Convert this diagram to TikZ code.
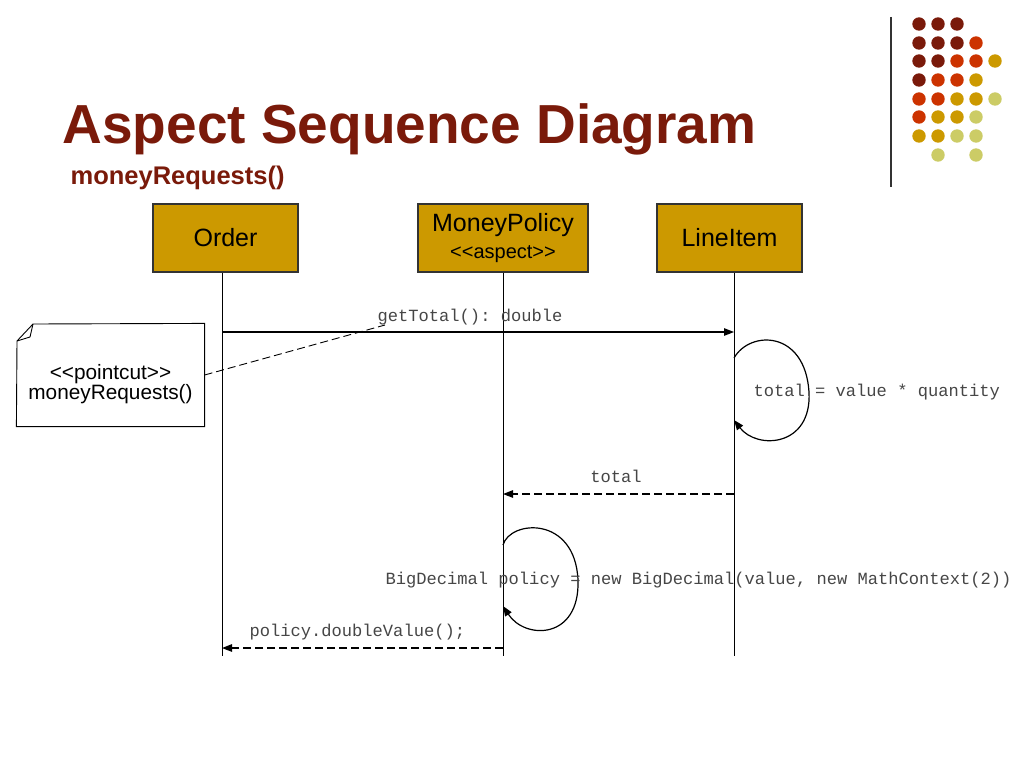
\documentclass[tikz,border=0pt]{standalone}
\usepackage{fontspec}
\setmainfont{Liberation Sans}
\setmonofont{Liberation Mono}
\usetikzlibrary{arrows, arrows.meta}
\definecolor{titlered}{RGB}{122,26,10}
\definecolor{dotmaroon}{RGB}{122,26,10}
\definecolor{dotred}{RGB}{204,51,0}
\definecolor{dotgold}{RGB}{204,153,0}
\definecolor{dotlight}{RGB}{204,204,102}
\definecolor{boxgold}{RGB}{204,153,0}
\definecolor{msgtext}{RGB}{70,70,70}

\begin{document}
\begin{tikzpicture}[x = 1pt, y = -1pt, line width = 1.2pt]
\tikzstyle{LifeBox}=[shape = rectangle,
                     draw = black!80,
                     fill = boxgold,
                     minimum width = 145pt,
                     minimum height = 68pt,
                     align = center,
                     inner sep = 0pt]
\tikzstyle{MsgLabel}=[text = msgtext,
                      font = \ttfamily\fontsize{17.1}{20}\selectfont,
                      inner sep = 0pt]
\tikzstyle{Call}=[-{Triangle[length = 10pt, width = 7.5pt]}]
\tikzstyle{Reply}=[-{Triangle[length = 10pt, width = 7.5pt]}, dash pattern = on 8pt off 4pt]
\useasboundingbox (0,0) rectangle (1024,768);
\fill[white] (0,0) rectangle (1024,768);
\node[anchor = base west, inner sep = 0pt, text = titlered, font = \bfseries\fontsize{55}{60}\selectfont] (title) at (62,143) {Aspect Sequence Diagram};
\node[anchor = base west, inner sep = 0pt, text = titlered, font = \bfseries\fontsize{25.5}{30}\selectfont] (subtitle) at (70,184) {moneyRequests()};
\node[LifeBox, font = \fontsize{25}{30}\selectfont] (order) at (225.5,238) {\raisebox{-2pt}{Order}};
\node[LifeBox, minimum width = 170pt] (policy) at (503,238) {\fontsize{25}{27}\selectfont MoneyPolicy\\[7pt] \fontsize{20}{22}\selectfont <{}<aspect>{}>};
\node[LifeBox, font = \fontsize{25}{30}\selectfont] (lineitem) at (729.5,238) {\raisebox{-2pt}{LineItem}};
\coordinate (orderEnd) at (222,656);
\coordinate (policyEnd) at (503,656);
\coordinate (lineitemEnd) at (734,656);
\draw[line width = 0.9pt] (order.south -| orderEnd) -- (orderEnd);
\draw[line width = 0.9pt] (policy.south) -- (policyEnd);
\draw[line width = 0.9pt] (lineitem.south -| lineitemEnd) -- (lineitemEnd);
\coordinate (m1a) at (222,332);
\coordinate (m1b) at (734,332);
\draw[Call] (m1a) -- (m1b);
\node[MsgLabel, anchor = base] (m1label) at (470,321) {getTotal(): double};
\coordinate (m1tip) at (385,325);
\coordinate (loop1a) at (734,358);
\coordinate (loop1b) at (734,420);
\draw[Call] (loop1a) .. controls (750,330) and (805,330) .. (809,392) .. controls (812,447) and (757,450) .. (loop1b);
\node[MsgLabel, anchor = base west] (loop1label) at (753,396) {total = value * quantity};
\coordinate (m2a) at (734,494);
\coordinate (m2b) at (503,494);
\draw[Reply] (m2a) -- (m2b);
\node[MsgLabel, anchor = base] (m2label) at (616,482) {total};
\coordinate (loop2a) at (503,545);
\coordinate (loop2b) at (503,606);
\draw[Call] (loop2a) .. controls (510,520) and (575,515) .. (578,580) .. controls (580,640) and (525,640) .. (loop2b);
\node[MsgLabel, anchor = base west] (loop2label) at (385,584) {BigDecimal policy = new BigDecimal(value, new MathContext(2))};
\coordinate (m3a) at (503,648);
\coordinate (m3b) at (222,648);
\draw[Reply] (m3a) -- (m3b);
\node[MsgLabel, anchor = base west] (m3label) at (249,636) {policy.doubleValue();};
\node[inner sep = 0pt, minimum width = 187pt, minimum height = 102pt] (note) at (110.5,375) {};
\node[align = center, inner sep = 0pt, font = \fontsize{20.8}{20}\selectfont] (notetext) at (110.5,384) {<{}<pointcut>{}>\\ moneyRequests()};
\draw[line width = 0.9pt] (33,324) -- (note.north east) -- (note.south east) -- (note.south west) -- (17,341) -- cycle;
\draw[line width = 0.9pt] (33,324) -- (30,337) -- (17,341);
\draw[dash pattern = on 8pt off 4pt, line width = 0.9pt] (note.east) -- (m1tip);
\draw[black!80, line width = 1.2pt] (891,17) -- (891,187);
\fill[dotmaroon] (919,24) circle (6.7);
\fill[dotmaroon] (938,24) circle (6.7);
\fill[dotmaroon] (957,24) circle (6.7);
\fill[dotmaroon] (919,43) circle (6.7);
\fill[dotmaroon] (938,43) circle (6.7);
\fill[dotmaroon] (957,43) circle (6.7);
\fill[dotred] (976,43) circle (6.7);
\fill[dotmaroon] (919,61) circle (6.7);
\fill[dotmaroon] (938,61) circle (6.7);
\fill[dotred] (957,61) circle (6.7);
\fill[dotred] (976,61) circle (6.7);
\fill[dotgold] (995,61) circle (6.7);
\fill[dotmaroon] (919,80) circle (6.7);
\fill[dotred] (938,80) circle (6.7);
\fill[dotred] (957,80) circle (6.7);
\fill[dotgold] (976,80) circle (6.7);
\fill[dotred] (919,99) circle (6.7);
\fill[dotred] (938,99) circle (6.7);
\fill[dotgold] (957,99) circle (6.7);
\fill[dotgold] (976,99) circle (6.7);
\fill[dotlight] (995,99) circle (6.7);
\fill[dotred] (919,117) circle (6.7);
\fill[dotgold] (938,117) circle (6.7);
\fill[dotgold] (957,117) circle (6.7);
\fill[dotlight] (976,117) circle (6.7);
\fill[dotgold] (919,136) circle (6.7);
\fill[dotgold] (938,136) circle (6.7);
\fill[dotlight] (957,136) circle (6.7);
\fill[dotlight] (976,136) circle (6.7);
\fill[dotlight] (938,155) circle (6.7);
\fill[dotlight] (976,155) circle (6.7);
\end{tikzpicture}
\end{document}
